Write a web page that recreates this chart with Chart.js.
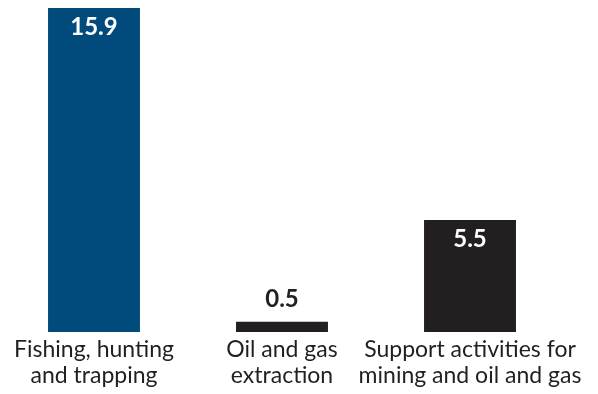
<!DOCTYPE html>
<html>
<head>
<meta charset="utf-8">
<style>
  html, body { margin: 0; padding: 0; background: #ffffff; }
  #wrap { width: 598px; height: 394px; position: relative; }
</style>
<script src="https://cdn.jsdelivr.net/npm/chart.js@4/dist/chart.umd.min.js"></script>
</head>
<body>
<div id="wrap"><canvas id="chart" width="598" height="394"></canvas></div>
<script>
// Industry categories (two-line labels) and their values
const categories = [
  ['Fishing, hunting', 'and trapping'],
  ['Oil and gas', 'extraction'],
  ['Support activities for', 'mining and oil and gas']
];
const values = [15.9, 0.5, 5.5];
const valueLabels = ['15.9', '0.5', '5.5'];

const barColors = ['#004b7c', '#231f20', '#231f20'];
const ink = '#231f20';
const fontFamily = 'Lato, "Open Sans", "Noto Sans", sans-serif';

// Writes each value on its bar: inside near the top in white for tall bars,
// above the bar in dark ink for short ones.
const valueLabelPlugin = {
  id: 'valueLabels',
  afterDatasetsDraw(chart) {
    const ctx = chart.ctx;
    const meta = chart.getDatasetMeta(0);
    ctx.save();
    ctx.font = 'bold 24px ' + fontFamily;
    ctx.textAlign = 'center';
    ctx.textBaseline = 'middle';
    meta.data.forEach((bar, i) => {
      const h = bar.base - bar.y;
      if (h > 40) {
        ctx.fillStyle = '#ffffff';
        ctx.fillText(valueLabels[i], bar.x, bar.y + 19);
      } else {
        ctx.fillStyle = ink;
        ctx.fillText(valueLabels[i], bar.x, bar.y - 23);
      }
    });
    ctx.restore();
  }
};

new Chart(document.getElementById('chart'), {
  type: 'bar',
  data: {
    labels: categories,
    datasets: [{
      data: values,
      backgroundColor: barColors,
      borderWidth: 0,
      barPercentage: 0.978,
      categoryPercentage: 0.5
    }]
  },
  options: {
    responsive: false,
    animation: false,
    layout: { padding: { top: 8, right: 34, left: 0, bottom: 0 } },
    plugins: {
      legend: { display: false },
      tooltip: { enabled: false }
    },
    scales: {
      y: {
        display: false,
        min: 0,
        max: 15.9
      },
      x: {
        grid: { display: false, drawTicks: false },
        border: { display: false },
        ticks: {
          color: ink,
          padding: 5,
          maxRotation: 0,
          autoSkip: false,
          font: { family: fontFamily, size: 23, lineHeight: 1.13 }
        }
      }
    }
  },
  plugins: [valueLabelPlugin]
});
</script>
</body>
</html>
